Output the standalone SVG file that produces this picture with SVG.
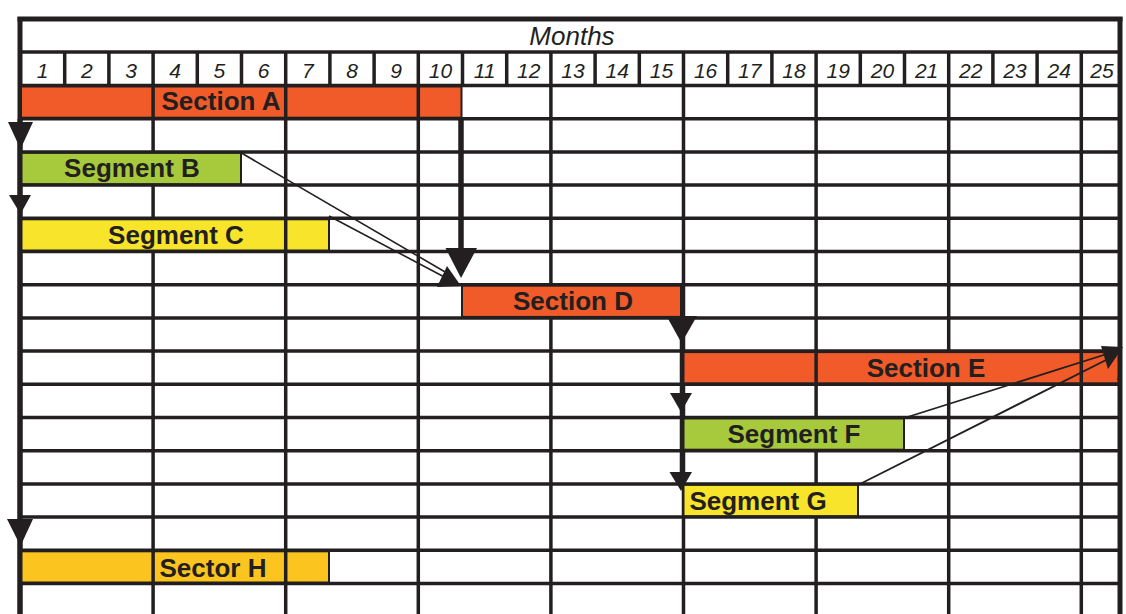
<svg xmlns="http://www.w3.org/2000/svg" width="1126" height="614" viewBox="0 0 1126 614">
<style>
.g{stroke:#231f20;stroke-width:3.5;fill:none}
.b{stroke:#231f20;stroke-width:5;fill:none}
.n{font-family:"Liberation Sans",Arial,sans-serif;font-style:italic;font-size:21px;fill:#231f20;text-anchor:middle}
.m{font-family:"Liberation Sans",Arial,sans-serif;font-style:italic;font-size:26px;fill:#231f20;text-anchor:middle}
.l{font-family:"Liberation Sans",Arial,sans-serif;font-weight:bold;font-size:26px;fill:#231f20;text-anchor:middle}
.bar{stroke:#231f20;stroke-width:2}
.or{fill:#f15a29}.gr{fill:#a7c93c}.ye{fill:#f8e42a}.go{fill:#fbc41e}
.c{stroke:#231f20;fill:none}
.ah{fill:#231f20}
</style>
<rect width="1126" height="614" fill="#fff"/>
<g id="grid">
<g class="g">
<line x1="20" y1="52" x2="1120" y2="52"/>
<line x1="20" y1="85.5" x2="1120" y2="85.5"/>
<line x1="20" y1="118.7" x2="1120" y2="118.7"/>
<line x1="20" y1="151.9" x2="1120" y2="151.9"/>
<line x1="20" y1="185.1" x2="1120" y2="185.1"/>
<line x1="20" y1="218.3" x2="1120" y2="218.3"/>
<line x1="20" y1="251.5" x2="1120" y2="251.5"/>
<line x1="20" y1="284.7" x2="1120" y2="284.7"/>
<line x1="20" y1="317.9" x2="1120" y2="317.9"/>
<line x1="20" y1="351.1" x2="1120" y2="351.1"/>
<line x1="20" y1="384.3" x2="1120" y2="384.3"/>
<line x1="20" y1="417.5" x2="1120" y2="417.5"/>
<line x1="20" y1="450.7" x2="1120" y2="450.7"/>
<line x1="20" y1="483.9" x2="1120" y2="483.9"/>
<line x1="20" y1="517.1" x2="1120" y2="517.1"/>
<line x1="20" y1="550.3" x2="1120" y2="550.3"/>
<line x1="20" y1="583.5" x2="1120" y2="583.5"/>
<!-- header separators -->
<line x1="64.7" y1="52" x2="64.7" y2="85.5"/>
<line x1="108.9" y1="52" x2="108.9" y2="85.5"/>
<line x1="197.3" y1="52" x2="197.3" y2="85.5"/>
<line x1="241.5" y1="52" x2="241.5" y2="85.5"/>
<line x1="329.9" y1="52" x2="329.9" y2="85.5"/>
<line x1="374.1" y1="52" x2="374.1" y2="85.5"/>
<line x1="462.5" y1="52" x2="462.5" y2="85.5"/>
<line x1="506.7" y1="52" x2="506.7" y2="85.5"/>
<line x1="595.1" y1="52" x2="595.1" y2="85.5"/>
<line x1="639.3" y1="52" x2="639.3" y2="85.5"/>
<line x1="727.7" y1="52" x2="727.7" y2="85.5"/>
<line x1="771.9" y1="52" x2="771.9" y2="85.5"/>
<line x1="860.3" y1="52" x2="860.3" y2="85.5"/>
<line x1="904.5" y1="52" x2="904.5" y2="85.5"/>
<line x1="992.9" y1="52" x2="992.9" y2="85.5"/>
<line x1="1037.1" y1="52" x2="1037.1" y2="85.5"/>
<!-- group lines -->
<line x1="153.1" y1="52" x2="153.1" y2="614"/>
<line x1="285.7" y1="52" x2="285.7" y2="614"/>
<line x1="418.3" y1="52" x2="418.3" y2="614"/>
<line x1="550.9" y1="52" x2="550.9" y2="614"/>
<line x1="683.5" y1="52" x2="683.5" y2="614"/>
<line x1="816.1" y1="52" x2="816.1" y2="614"/>
<line x1="948.7" y1="52" x2="948.7" y2="614"/>
<line x1="1081.3" y1="52" x2="1081.3" y2="614"/>
</g>
<g class="b">
<line x1="17.5" y1="19" x2="1122.5" y2="19"/>
<line x1="20" y1="17" x2="20" y2="614"/>
<line x1="1120" y1="17" x2="1120" y2="614"/>
</g>
<text class="m" x="572" y="45">Months</text>
<text class="n" x="42.6" y="78">1</text>
<text class="n" x="86.8" y="78">2</text>
<text class="n" x="131" y="78">3</text>
<text class="n" x="175.2" y="78">4</text>
<text class="n" x="219.4" y="78">5</text>
<text class="n" x="263.6" y="78">6</text>
<text class="n" x="307.8" y="78">7</text>
<text class="n" x="352" y="78">8</text>
<text class="n" x="396.2" y="78">9</text>
<text class="n" x="440.4" y="78">10</text>
<text class="n" x="484.6" y="78">11</text>
<text class="n" x="528.8" y="78">12</text>
<text class="n" x="573" y="78">13</text>
<text class="n" x="617.2" y="78">14</text>
<text class="n" x="661.4" y="78">15</text>
<text class="n" x="705.6" y="78">16</text>
<text class="n" x="749.8" y="78">17</text>
<text class="n" x="794" y="78">18</text>
<text class="n" x="838.2" y="78">19</text>
<text class="n" x="882.4" y="78">20</text>
<text class="n" x="926.6" y="78">21</text>
<text class="n" x="970.8" y="78">22</text>
<text class="n" x="1015" y="78">23</text>
<text class="n" x="1059.2" y="78">24</text>
<text class="n" x="1102" y="78">25</text>
</g>
<g id="sectionA">
<rect class="bar or" x="21" y="86.5" width="440.5" height="31.2"/>
<g class="g"><line x1="153.1" y1="86" x2="153.1" y2="118"/><line x1="285.7" y1="86" x2="285.7" y2="118"/><line x1="418.3" y1="86" x2="418.3" y2="118"/></g>
<text class="l" x="221" y="110">Section A</text>
</g>
<g id="segmentB">
<rect class="bar gr" x="21" y="152.9" width="220" height="31.2"/>
<text class="l" x="132" y="177">Segment B</text>
</g>
<g id="segmentC">
<rect class="bar ye" x="21" y="219.3" width="308" height="31.2"/>
<g class="g"><line x1="285.7" y1="219" x2="285.7" y2="251"/></g>
<text class="l" x="176" y="244">Segment C</text>
</g>
<g id="sectionD">
<rect class="bar or" x="462" y="285.7" width="219" height="31.2"/>
<text class="l" x="573" y="310">Section D</text>
</g>
<g id="sectionE">
<rect class="bar or" x="683.5" y="352.1" width="435" height="31.2"/>
<g class="g"><line x1="816.1" y1="352" x2="816.1" y2="384"/><line x1="1081.3" y1="352" x2="1081.3" y2="384"/></g>
<text class="l" x="926" y="377">Section E</text>
</g>
<g id="segmentF">
<rect class="bar gr" x="683.5" y="418.5" width="220.5" height="31.2"/>
<text class="l" x="794" y="443">Segment F</text>
</g>
<g id="segmentG">
<rect class="bar ye" x="683.5" y="484.9" width="174.5" height="31.2"/>
<text class="l" x="758" y="510">Segment G</text>
</g>
<g id="sectorH">
<rect class="bar go" x="21" y="551.3" width="308" height="31.2"/>
<g class="g"><line x1="153.1" y1="551" x2="153.1" y2="583"/><line x1="285.7" y1="551" x2="285.7" y2="583"/></g>
<text class="l" x="213" y="577">Sector H</text>
</g>
<g id="connectors">
<line class="c" stroke-width="5" x1="20" y1="119" x2="20" y2="614"/>
<polygon class="ah" points="8,122 33,122 20.5,149"/>
<polygon class="ah" points="9,195 31,195 20.5,214"/>
<polygon class="ah" points="7,519 33,519 20.5,546"/>
<line class="c" stroke-width="5.5" x1="461" y1="119" x2="461" y2="255"/>
<polygon class="ah" points="445.5,248 477,248 461,278"/>
<line class="c" stroke-width="1.6" x1="241.5" y1="153" x2="452" y2="276"/>
<line class="c" stroke-width="1.6" x1="329" y1="216" x2="450" y2="280"/>
<polygon class="ah" points="437,287 447,266 461,286"/>
<line class="c" stroke-width="3.5" x1="681.5" y1="318" x2="681.5" y2="486"/>
<polygon class="ah" points="666.5,316 697,316 681.5,343"/>
<polygon class="ah" points="670,393 692,393 681,412"/>
<polygon class="ah" points="669.5,472 692,472 681,491"/>
<line class="c" stroke-width="1.8" x1="906" y1="417.5" x2="1110" y2="353"/>
<line class="c" stroke-width="1.8" x1="859" y1="484.5" x2="1112" y2="357"/>
<polygon class="ah" points="1101,346 1123,347 1108,369"/>
<polygon class="ah" points="1117,380 1122,365 1122,380"/>
</g>
</svg>
